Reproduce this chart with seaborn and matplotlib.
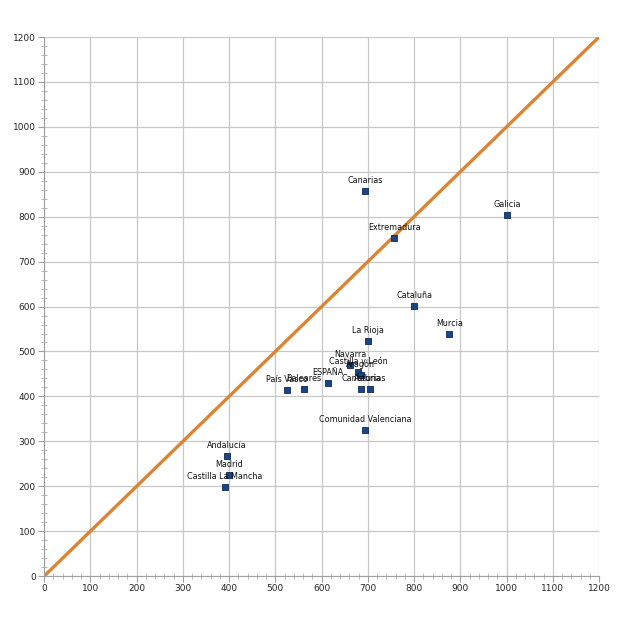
import matplotlib
matplotlib.use("Agg")
import matplotlib.pyplot as plt
import seaborn as sns
import pandas as pd
from matplotlib.ticker import MultipleLocator

regions = ["Canarias", "Galicia", "Extremadura", "Cataluña", "Murcia", "La Rioja",
           "Navarra", "Castilla y León", "Aragón", "Cantabria", "Asturias", "ESPAÑA",
           "Baleares", "País Vasco", "Comunidad Valenciana", "Andalucía", "Madrid",
           "Castilla La Mancha"]
x_vals = [694, 1001, 757, 800, 876, 700, 662, 679, 685, 685, 705, 614, 562, 525, 694, 395, 400, 391]
y_vals = [857, 804, 753, 601, 539, 523, 470, 454, 448, 416, 416, 430, 416, 414, 325, 267, 225, 198]
diag = [0, 1200]

df = pd.DataFrame({"region": regions, "x": x_vals, "y": y_vals})

sns.set_style("white")
plt.rcParams['font.family'] = ['DejaVu Sans']

fig = plt.figure(figsize=(6.4, 6.38), dpi=100)
ax = fig.add_axes([0.069, 0.097, 0.867, 0.845])

ax.plot(diag, diag, color="#db8534", lw=2.4, zorder=2)
sns.scatterplot(data=df, x="x", y="y", marker="s", s=22, color="#1c4587",
                edgecolor="#0d2a55", linewidth=0.6, ax=ax, zorder=3)

for r, xv, yv in zip(regions, x_vals, y_vals):
    ax.annotate(r, (xv, yv), xytext=(0, 4.5), textcoords="offset points",
                ha="center", va="bottom", fontsize=5.8, color="#111111", zorder=4)

ax.set_xlim(0, 1200)
ax.set_ylim(0, 1200)
ax.xaxis.set_major_locator(MultipleLocator(100))
ax.yaxis.set_major_locator(MultipleLocator(100))
ax.xaxis.set_minor_locator(MultipleLocator(20))
ax.yaxis.set_minor_locator(MultipleLocator(20))
ax.grid(True, which="major", color="#c8c8c8", lw=0.9)
ax.set_axisbelow(True)
ax.tick_params(which="major", length=4, width=0.8, color="#a0a0a0", labelsize=6.5, direction="out", pad=2)
ax.tick_params(which="minor", length=4, width=0.6, color="#b0b0b0", direction="inout")
ax.tick_params(axis="both", which="both", bottom=True, left=True)
for side in ["top", "right"]:
    ax.spines[side].set_visible(False)
for side in ["left", "bottom"]:
    ax.spines[side].set_color("#a0a0a0")
    ax.spines[side].set_linewidth(0.8)
ax.set_xlabel("")
ax.set_ylabel("")

fig.savefig("out.png", dpi=100, facecolor="white")
